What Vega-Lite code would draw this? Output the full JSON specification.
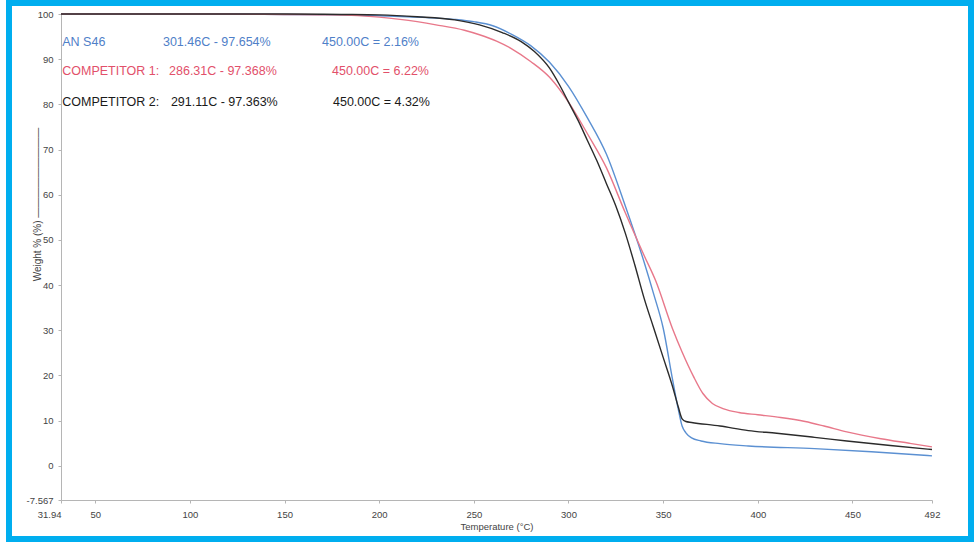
{
  "$schema": "https://vega.github.io/schema/vega-lite/v6.json",
  "width": 962,
  "height": 536,
  "autosize": {"type": "none"},
  "padding": {"left": 9, "top": 3, "right": 5, "bottom": 4},
  "background": "white",
  "config": {
    "view": {"stroke": "#00aeef", "strokeWidth": 6, "fill": "white"},
    "font": "Liberation Sans"
  },
  "datasets": {
    "curves": [
      {"series": "AN S46", "t": 31.94, "w": 100},
      {"series": "AN S46", "t": 80, "w": 100},
      {"series": "AN S46", "t": 120, "w": 100},
      {"series": "AN S46", "t": 150, "w": 99.9},
      {"series": "AN S46", "t": 180, "w": 99.8},
      {"series": "AN S46", "t": 200, "w": 99.6},
      {"series": "AN S46", "t": 225, "w": 99.2},
      {"series": "AN S46", "t": 240, "w": 98.8},
      {"series": "AN S46", "t": 250, "w": 98.3},
      {"series": "AN S46", "t": 260, "w": 97.4},
      {"series": "AN S46", "t": 270, "w": 95.5},
      {"series": "AN S46", "t": 280, "w": 93},
      {"series": "AN S46", "t": 290, "w": 89.3},
      {"series": "AN S46", "t": 300, "w": 84},
      {"series": "AN S46", "t": 310, "w": 77},
      {"series": "AN S46", "t": 320, "w": 69},
      {"series": "AN S46", "t": 330, "w": 57.5},
      {"series": "AN S46", "t": 340, "w": 45},
      {"series": "AN S46", "t": 345, "w": 38},
      {"series": "AN S46", "t": 350, "w": 30.5},
      {"series": "AN S46", "t": 355, "w": 19},
      {"series": "AN S46", "t": 358, "w": 12.5},
      {"series": "AN S46", "t": 360, "w": 8.8},
      {"series": "AN S46", "t": 362, "w": 7.3},
      {"series": "AN S46", "t": 365, "w": 6.2},
      {"series": "AN S46", "t": 370, "w": 5.5},
      {"series": "AN S46", "t": 380, "w": 4.9},
      {"series": "AN S46", "t": 395, "w": 4.4},
      {"series": "AN S46", "t": 430, "w": 3.8},
      {"series": "AN S46", "t": 460, "w": 3.1},
      {"series": "AN S46", "t": 492, "w": 2.2},
      {"series": "COMPETITOR 1", "t": 31.94, "w": 100},
      {"series": "COMPETITOR 1", "t": 120, "w": 100},
      {"series": "COMPETITOR 1", "t": 150, "w": 99.9},
      {"series": "COMPETITOR 1", "t": 175, "w": 99.8},
      {"series": "COMPETITOR 1", "t": 200, "w": 99.3},
      {"series": "COMPETITOR 1", "t": 211, "w": 98.8},
      {"series": "COMPETITOR 1", "t": 230, "w": 97.6},
      {"series": "COMPETITOR 1", "t": 245, "w": 96.4},
      {"series": "COMPETITOR 1", "t": 253, "w": 95.4},
      {"series": "COMPETITOR 1", "t": 262, "w": 94},
      {"series": "COMPETITOR 1", "t": 270, "w": 92.3},
      {"series": "COMPETITOR 1", "t": 280, "w": 89.5},
      {"series": "COMPETITOR 1", "t": 290, "w": 86},
      {"series": "COMPETITOR 1", "t": 300, "w": 80.5},
      {"series": "COMPETITOR 1", "t": 310, "w": 73.5},
      {"series": "COMPETITOR 1", "t": 320, "w": 66},
      {"series": "COMPETITOR 1", "t": 330, "w": 56},
      {"series": "COMPETITOR 1", "t": 340, "w": 46.5},
      {"series": "COMPETITOR 1", "t": 346, "w": 41},
      {"series": "COMPETITOR 1", "t": 355, "w": 30.3},
      {"series": "COMPETITOR 1", "t": 360, "w": 25.2},
      {"series": "COMPETITOR 1", "t": 366, "w": 19.8},
      {"series": "COMPETITOR 1", "t": 371, "w": 16},
      {"series": "COMPETITOR 1", "t": 376, "w": 13.8},
      {"series": "COMPETITOR 1", "t": 382, "w": 12.6},
      {"series": "COMPETITOR 1", "t": 390, "w": 11.8},
      {"series": "COMPETITOR 1", "t": 400, "w": 11.3},
      {"series": "COMPETITOR 1", "t": 412, "w": 10.7},
      {"series": "COMPETITOR 1", "t": 425, "w": 9.8},
      {"series": "COMPETITOR 1", "t": 435, "w": 8.8},
      {"series": "COMPETITOR 1", "t": 447, "w": 7.5},
      {"series": "COMPETITOR 1", "t": 465, "w": 6},
      {"series": "COMPETITOR 1", "t": 480, "w": 5},
      {"series": "COMPETITOR 1", "t": 492, "w": 4.2},
      {"series": "COMPETITOR 2", "t": 31.94, "w": 100},
      {"series": "COMPETITOR 2", "t": 80, "w": 100},
      {"series": "COMPETITOR 2", "t": 120, "w": 100},
      {"series": "COMPETITOR 2", "t": 150, "w": 100},
      {"series": "COMPETITOR 2", "t": 180, "w": 99.9},
      {"series": "COMPETITOR 2", "t": 200, "w": 99.8},
      {"series": "COMPETITOR 2", "t": 220, "w": 99.4},
      {"series": "COMPETITOR 2", "t": 240, "w": 98.7},
      {"series": "COMPETITOR 2", "t": 253, "w": 97.6},
      {"series": "COMPETITOR 2", "t": 265, "w": 95.9},
      {"series": "COMPETITOR 2", "t": 275, "w": 93.9},
      {"series": "COMPETITOR 2", "t": 282, "w": 91.7},
      {"series": "COMPETITOR 2", "t": 290, "w": 88},
      {"series": "COMPETITOR 2", "t": 295, "w": 84.5},
      {"series": "COMPETITOR 2", "t": 300, "w": 80.5},
      {"series": "COMPETITOR 2", "t": 305, "w": 76.5},
      {"series": "COMPETITOR 2", "t": 310, "w": 72},
      {"series": "COMPETITOR 2", "t": 315, "w": 67.5},
      {"series": "COMPETITOR 2", "t": 320, "w": 62.5},
      {"series": "COMPETITOR 2", "t": 325, "w": 57.5},
      {"series": "COMPETITOR 2", "t": 330, "w": 51.5},
      {"series": "COMPETITOR 2", "t": 335, "w": 44.5},
      {"series": "COMPETITOR 2", "t": 340, "w": 37},
      {"series": "COMPETITOR 2", "t": 345, "w": 30.5},
      {"series": "COMPETITOR 2", "t": 350, "w": 24},
      {"series": "COMPETITOR 2", "t": 355, "w": 17.5},
      {"series": "COMPETITOR 2", "t": 358, "w": 13},
      {"series": "COMPETITOR 2", "t": 360, "w": 10.4},
      {"series": "COMPETITOR 2", "t": 362, "w": 9.8},
      {"series": "COMPETITOR 2", "t": 365, "w": 9.6},
      {"series": "COMPETITOR 2", "t": 380, "w": 8.8},
      {"series": "COMPETITOR 2", "t": 395, "w": 7.8},
      {"series": "COMPETITOR 2", "t": 410, "w": 7.2},
      {"series": "COMPETITOR 2", "t": 430, "w": 6.3},
      {"series": "COMPETITOR 2", "t": 447, "w": 5.5},
      {"series": "COMPETITOR 2", "t": 470, "w": 4.5},
      {"series": "COMPETITOR 2", "t": 492, "w": 3.6}
    ],
    "labels": [
      {"series": "AN S46", "t": 32.6, "w": 93.8, "label": "AN S46"},
      {"series": "AN S46", "t": 85.8, "w": 93.8, "label": "301.46C - 97.654%"},
      {"series": "AN S46", "t": 169.8, "w": 93.8, "label": "450.00C = 2.16%"},
      {"series": "COMPETITOR 1", "t": 32.6, "w": 87.4, "label": "COMPETITOR 1:"},
      {"series": "COMPETITOR 1", "t": 89, "w": 87.4, "label": "286.31C - 97.368%"},
      {"series": "COMPETITOR 1", "t": 175.1, "w": 87.4, "label": "450.00C = 6.22%"},
      {"series": "COMPETITOR 2", "t": 32.6, "w": 80.6, "label": "COMPETITOR 2:"},
      {"series": "COMPETITOR 2", "t": 90, "w": 80.6, "label": "291.11C - 97.363%"},
      {"series": "COMPETITOR 2", "t": 175.6, "w": 80.6, "label": "450.00C = 4.32%"}
    ]
  },
  "layer": [
    {
      "data": {"name": "curves"},
      "mark": {"type": "line", "strokeWidth": 1.4, "interpolate": "monotone"},
      "encoding": {
        "x": {
          "field": "t",
          "type": "quantitative",
          "scale": {"domain": [31.94, 492], "range": [52, 923], "nice": false, "zero": false},
          "axis": {
            "values": [31.94, 50, 100, 150, 200, 250, 300, 350, 400, 450, 492],
            "labelExpr": "'' + datum.value",
            "title": "Temperature (°C)",
            "grid": false,
            "offset": -39,
            "domainColor": "#b5b5b5",
            "tickColor": "#b5b5b5",
            "tickSize": 3,
            "labelFontSize": 9.5,
            "labelColor": "#444444",
            "labelPadding": 6,
            "labelAlign": {"condition": {"test": "datum.value < 40", "value": "right"}, "value": "center"},
            "titleFontSize": 9.5,
            "titleFontWeight": "normal",
            "titleColor": "#444444",
            "titlePadding": 3
          }
        },
        "y": {
          "field": "w",
          "type": "quantitative",
          "scale": {"domain": [-7.567, 100], "range": [497, 11], "nice": false, "zero": false},
          "axis": {
            "values": [-7.567, 0, 10, 20, 30, 40, 50, 60, 70, 80, 90, 100],
            "labelExpr": "'' + datum.value",
            "title": "Weight % (%) —————————",
            "grid": false,
            "offset": -52,
            "domainColor": "#b5b5b5",
            "tickColor": "#b5b5b5",
            "tickSize": 3,
            "labelFontSize": 9.5,
            "labelColor": "#444444",
            "labelPadding": 5,
            "titleFontSize": 10,
            "titleFontWeight": "normal",
            "titleColor": "#444444",
            "titleX": -24,
            "titleY": 201,
            "titleBaseline": "middle"
          }
        },
        "color": {
          "field": "series",
          "type": "nominal",
          "scale": {"domain": ["AN S46", "COMPETITOR 1", "COMPETITOR 2"], "range": ["#5b90d2", "#e8788a", "#2b2b2b"]},
          "legend": null
        }
      }
    },
    {
      "data": {"name": "labels"},
      "mark": {"type": "text", "align": "left", "baseline": "middle", "fontSize": 12.5},
      "encoding": {
        "x": {"field": "t", "type": "quantitative"},
        "y": {"field": "w", "type": "quantitative"},
        "text": {"field": "label"},
        "color": {
          "field": "series",
          "type": "nominal",
          "scale": {"domain": ["AN S46", "COMPETITOR 1", "COMPETITOR 2"], "range": ["#4f80c8", "#e2506a", "#1a1a1a"]},
          "legend": null
        }
      }
    }
  ],
  "resolve": {"scale": {"color": "independent"}}
}
